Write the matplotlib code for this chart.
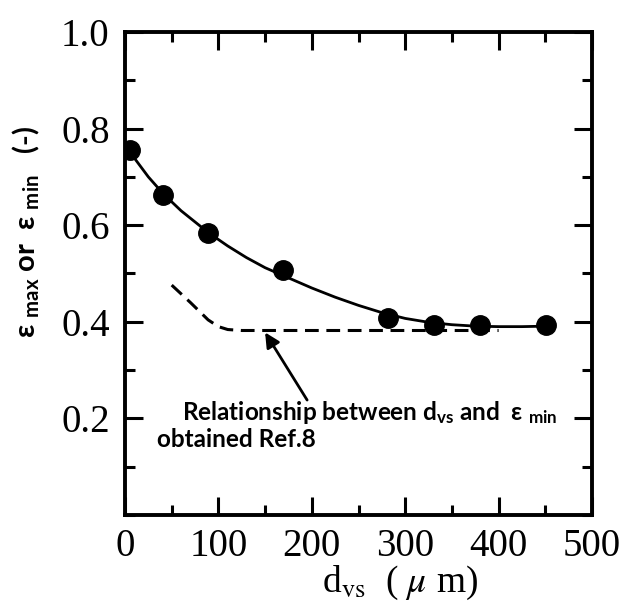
import matplotlib
matplotlib.use("Agg")
import matplotlib.pyplot as plt
from matplotlib.ticker import MultipleLocator, FixedLocator

plt.rcParams["mathtext.fontset"] = "custom"
plt.rcParams["mathtext.rm"] = "Lato:bold"
plt.rcParams["mathtext.it"] = "Lato:bold"
plt.rcParams["mathtext.bf"] = "Lato:bold"

# measured points
d_vs = [5, 41, 89, 169, 282, 331, 380, 451]
eps = [0.756, 0.663, 0.584, 0.507, 0.408, 0.393, 0.393, 0.393]

# fitted curve
curve_x = [5, 25, 41, 60, 89, 110, 130, 150, 169, 200, 225, 250, 275, 300, 325, 350, 375, 400, 425, 451]
curve_y = [0.752, 0.700, 0.665, 0.630, 0.585, 0.557, 0.533, 0.512, 0.496, 0.470, 0.451, 0.434, 0.419,
           0.407, 0.399, 0.394, 0.391, 0.390, 0.390, 0.391]

# Ref. 8 relationship (dashed)
ref_x = [50, 70, 89, 100, 110, 125, 400]
ref_y = [0.476, 0.440, 0.404, 0.390, 0.384, 0.382, 0.382]

xticks = [0, 100, 200, 300, 400, 500]
yticks = [0.2, 0.4, 0.6, 0.8, 1.0]
ytick_labels = ["0.2", "0.4", "0.6", "0.8", "1.0"]

fig = plt.figure(figsize=(6.24, 6.04), dpi=100)
ax = fig.add_axes([125/624, 1-515/604, (592-125)/624, (515-32)/604])

ax.plot(curve_x, curve_y, color="black", lw=2.0, zorder=2)
ax.plot(ref_x, ref_y, color="black", lw=2.2, ls=(0, (4.5, 2.5)), zorder=2)
ax.plot(d_vs, eps, "o", color="black", ms=14, zorder=3)

ax.set_xlim(0, 500)
ax.set_ylim(0, 1.0)
ax.xaxis.set_major_locator(FixedLocator(xticks))
ax.xaxis.set_minor_locator(MultipleLocator(50))
ax.yaxis.set_major_locator(FixedLocator(yticks))
ax.yaxis.set_minor_locator(MultipleLocator(0.1))
ax.set_yticklabels(ytick_labels)

serif = "Liberation Serif"
for lab in ax.get_xticklabels() + ax.get_yticklabels():
    lab.set_fontfamily(serif)
    lab.set_fontsize(28)

ax.tick_params(which="both", direction="in", top=True, right=True, width=2.2)
ax.tick_params(which="major", length=13)
ax.tick_params(which="minor", length=7)
ax.tick_params(axis="x", pad=9)
ax.tick_params(axis="y", pad=11)
for s in ax.spines.values():
    s.set_linewidth(2.8)

ax.set_xlabel(r"d$_{\rm vs}$  ( $\mu$ m)", fontsize=27, family=serif, labelpad=0,
              math_fontfamily="stix")
ax.xaxis.set_label_coords((400-125)/467, -0.1, transform=ax.transAxes)
ax.xaxis.label.set_verticalalignment("top")

fig.text(26/624, 1-232/604, r"ε $_{\rm max}$ or  ε $_{\rm min}$   (-)",
         rotation=90, ha="center", va="center", fontsize=21, fontweight="bold",
         family=["Lato", "DejaVu Sans"])

ax.annotate("", xy=(150, 0.378), xytext=(195, 0.238),
            arrowprops=dict(arrowstyle="-|>", color="black", lw=2, mutation_scale=22,
                            shrinkA=0, shrinkB=0))

txt_font = dict(fontsize=17.5, fontweight="bold", family=["Lato", "DejaVu Sans"])
ax.text((182-125)/0.934, (515-420)/483, r"Relationship between d$_{\rm vs}$ and  ε $_{\rm min}$",
        ha="left", va="baseline", **txt_font)
ax.text((157-125)/0.934, (515-447)/483, "obtained Ref.8", ha="left", va="baseline", **txt_font)

fig.savefig("out.png", dpi=100)
